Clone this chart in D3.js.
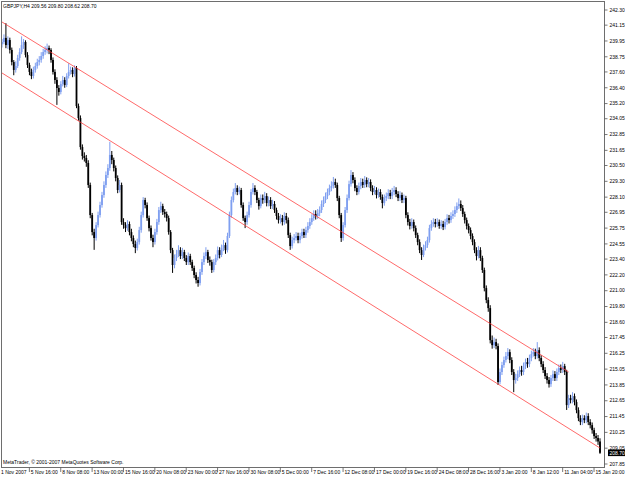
<!DOCTYPE html>
<html>
<head>
<meta charset="UTF-8">
<title>GBPJPY,H4</title>
<script src="https://cdn.jsdelivr.net/npm/d3@7"></script>
<style>
	body { margin: 0; background: #fff; }
	text { font-family: "Liberation Sans", Arial, sans-serif; font-size: 5px; fill: #000; }
</style>
</head>
<body>
<div id="chart"></div>
<script>
// H4 bars, 1 Nov 2007 .. 15 Jan 2008 (open of each bar = previous close)
var firstOpen = 239.70;
var closes = [
	239.87, 240.18, 239.64, 240.02, 239.27, 238.35, 237.75, 238.05, 238.66, 239.11,
	239.64, 239.87, 238.89, 238.13, 237.60, 237.29, 237.75, 238.05, 238.35, 238.51,
	238.81, 239.11, 239.27, 239.42, 239.27, 238.51, 237.60, 236.99, 236.38, 236.08,
	236.68, 236.99, 236.61, 237.29, 237.60, 237.75, 237.44, 237.90, 235.01, 234.10,
	231.90, 231.22, 231.07, 230.69, 229.02, 226.74, 225.45, 225.00, 225.98, 226.74,
	227.50, 228.26, 229.02, 229.78, 230.31, 231.30, 230.92, 230.31, 229.55, 228.64,
	229.02, 226.21, 225.98, 225.75, 226.06, 225.45, 225.00, 224.54, 224.24, 224.69,
	225.60, 226.74, 227.88, 227.50, 226.51, 225.75, 225.00, 224.69, 225.45, 226.21,
	227.12, 227.42, 226.97, 226.82, 226.51, 225.45, 224.08, 222.95, 223.48, 223.78,
	224.08, 223.63, 223.93, 223.48, 223.17, 223.63, 223.17, 222.72, 222.19, 221.81,
	221.58, 222.42, 223.17, 223.63, 223.93, 223.33, 223.17, 222.57, 223.17, 223.48,
	224.08, 223.71, 224.24, 224.46, 224.08, 225.15, 226.74, 227.88, 228.49, 228.79,
	228.49, 228.64, 227.50, 226.51, 226.21, 226.74, 227.50, 228.49, 228.79, 228.49,
	227.88, 227.42, 228.03, 227.88, 228.18, 227.65, 227.88, 227.42, 227.58, 227.12,
	226.67, 226.36, 226.51, 226.21, 226.67, 226.36, 225.22, 224.39, 224.84, 225.00,
	225.15, 224.84, 225.15, 225.45, 225.22, 225.60, 225.91, 226.21, 226.51, 226.82,
	226.67, 226.89, 227.12, 227.58, 227.88, 228.18, 228.49, 228.79, 228.94, 229.25,
	229.02, 228.03, 226.74, 225.00, 225.98, 227.12, 228.03, 229.09, 229.78, 229.40,
	228.79, 228.49, 228.94, 229.25, 229.02, 229.40, 229.09, 229.25, 228.79, 228.49,
	228.64, 228.26, 228.49, 228.11, 227.65, 228.03, 228.18, 228.41, 228.18, 228.49,
	228.64, 228.34, 228.03, 228.26, 227.88, 228.03, 226.74, 226.21, 225.91, 226.21,
	225.75, 225.22, 224.69, 224.08, 223.71, 224.24, 224.46, 224.84, 225.75, 226.06,
	226.21, 226.06, 226.21, 225.91, 226.06, 225.83, 226.21, 226.51, 226.36, 226.67,
	226.82, 227.12, 227.42, 227.58, 227.27, 226.82, 226.36, 225.91, 225.60, 225.15,
	224.69, 224.08, 223.63, 224.08, 223.48, 222.57, 221.20, 220.29, 219.68, 217.25,
	216.87, 217.10, 216.80, 214.07, 214.83, 215.36, 215.74, 216.04, 216.34, 215.74,
	214.83, 214.22, 214.37, 214.67, 214.98, 214.83, 215.28, 215.58, 215.43, 215.89,
	216.19, 216.34, 216.04, 216.49, 215.89, 215.43, 214.98, 214.52, 214.22, 213.91,
	214.37, 214.67, 214.37, 214.83, 215.13, 214.98, 215.28, 214.83, 212.32, 212.85,
	212.70, 213.00, 212.55, 211.94, 211.33, 211.03, 211.33, 211.18, 211.49, 211.03,
	210.80, 210.42, 209.97, 209.82, 209.56, 208.70
];
var highs = [
	240.10, 240.45, 241.30, 240.30, 240.20, 239.45, 238.50, 238.40, 238.90, 239.40,
	240.30, 240.10, 240.00, 239.10, 238.30, 237.85, 238.00, 238.30, 238.60, 238.80,
	239.10, 239.35, 239.55, 239.75, 239.60, 239.40, 238.70, 237.80, 237.20, 236.60,
	236.90, 237.30, 237.20, 237.50, 238.25, 238.00, 237.95, 238.10, 238.05, 235.20,
	234.30, 232.10, 231.50, 231.30, 230.90, 229.20, 226.90, 225.70, 226.20, 227.00,
	227.75, 228.50, 229.30, 230.05, 230.60, 232.30, 231.60, 231.10, 230.50, 229.75,
	229.40, 229.20, 226.50, 226.20, 226.35, 226.25, 225.70, 225.20, 224.80, 224.95,
	225.85, 227.00, 228.10, 228.05, 227.70, 226.70, 225.95, 225.25, 225.70, 226.45,
	227.35, 227.75, 227.60, 227.20, 227.00, 226.70, 225.60, 224.25, 223.75, 224.10,
	224.45, 224.30, 224.25, 224.10, 223.70, 223.90, 223.80, 223.35, 222.90, 222.40,
	222.05, 222.65, 223.40, 223.90, 224.30, 224.10, 223.60, 223.35, 223.40, 223.75,
	224.35, 224.30, 224.50, 224.85, 224.65, 225.40, 227.00, 228.15, 228.75, 229.17,
	229.00, 228.90, 228.80, 227.70, 226.70, 227.00, 227.75, 228.70, 229.17, 229.00,
	228.65, 228.05, 228.30, 228.30, 228.50, 228.40, 228.15, 228.10, 227.90, 227.80,
	227.30, 226.90, 226.80, 226.75, 226.95, 226.90, 226.55, 225.40, 225.10, 225.30,
	225.45, 225.40, 225.40, 225.70, 225.70, 225.85, 226.20, 226.50, 226.80, 227.10,
	227.10, 227.20, 227.40, 227.85, 228.15, 228.45, 228.75, 229.05, 229.30, 229.63,
	229.50, 229.20, 228.20, 226.90, 226.20, 227.35, 228.30, 229.35, 230.15, 230.00,
	229.60, 229.00, 229.20, 229.55, 229.50, 229.70, 229.60, 229.55, 229.45, 229.00,
	228.95, 228.85, 228.75, 228.70, 228.30, 228.30, 228.45, 228.70, 228.65, 228.80,
	228.95, 228.85, 228.55, 228.55, 228.45, 228.30, 228.20, 226.95, 226.45, 226.50,
	226.40, 225.95, 225.40, 224.90, 224.30, 224.50, 224.75, 225.10, 226.00, 226.35,
	226.50, 226.45, 226.50, 226.40, 226.35, 226.30, 226.45, 226.80, 226.75, 226.95,
	227.10, 227.40, 227.70, 228.00, 227.85, 227.50, 227.00, 226.55, 226.10, 225.80,
	225.35, 224.90, 224.30, 224.40, 224.30, 223.65, 222.75, 221.40, 220.50, 219.90,
	217.60, 217.45, 217.35, 217.00, 215.10, 215.60, 216.00, 216.35, 216.65, 216.55,
	215.95, 215.05, 214.70, 214.95, 215.25, 215.30, 215.55, 215.85, 215.90, 216.15,
	216.45, 216.65, 216.60, 217.10, 216.70, 216.10, 215.65, 215.20, 214.75, 214.45,
	214.60, 214.95, 214.90, 215.10, 215.40, 215.40, 215.60, 215.45, 215.00, 213.10,
	213.10, 213.30, 213.20, 212.75, 212.15, 211.55, 211.60, 211.55, 211.75, 211.70,
	211.25, 211.00, 210.60, 210.20, 210.05, 209.80
];
var lows = [
	239.45, 239.70, 239.40, 239.35, 239.00, 238.10, 237.35, 237.55, 237.90, 238.45,
	238.95, 239.35, 238.70, 237.90, 237.35, 237.05, 237.10, 237.55, 237.85, 238.10,
	238.30, 238.60, 238.90, 239.00, 238.95, 238.30, 237.40, 236.70, 235.10, 235.80,
	235.90, 236.50, 236.40, 236.45, 237.10, 237.40, 237.20, 237.25, 234.85, 233.90,
	231.70, 230.95, 230.80, 230.40, 228.80, 226.50, 225.20, 224.10, 224.80, 225.80,
	226.55, 227.30, 228.05, 228.80, 229.55, 230.10, 230.60, 230.05, 229.30, 228.40,
	228.45, 226.00, 225.70, 225.45, 225.55, 225.20, 224.75, 224.30, 223.85, 224.05,
	224.50, 225.40, 226.55, 227.25, 226.30, 225.50, 224.80, 224.30, 224.50, 225.25,
	226.00, 226.90, 226.75, 226.55, 226.25, 225.25, 223.85, 222.35, 222.70, 223.25,
	223.55, 223.40, 223.40, 223.25, 222.95, 222.95, 222.95, 222.50, 221.95, 221.55,
	221.30, 221.40, 222.20, 222.95, 223.40, 223.10, 222.90, 222.35, 222.40, 222.95,
	223.30, 223.45, 223.55, 224.00, 223.80, 223.90, 225.00, 226.55, 227.70, 228.30,
	228.25, 228.30, 227.30, 226.30, 225.75, 226.00, 226.55, 227.30, 228.30, 228.25,
	227.65, 227.15, 227.25, 227.60, 227.65, 227.40, 227.40, 227.20, 227.20, 226.90,
	226.40, 226.10, 226.10, 225.95, 226.00, 226.10, 225.00, 224.10, 224.20, 224.60,
	224.80, 224.60, 224.60, 224.95, 225.00, 225.00, 225.40, 225.70, 226.00, 226.30,
	226.40, 226.45, 226.65, 226.90, 227.35, 227.65, 227.95, 228.25, 228.55, 228.75,
	228.80, 227.80, 226.50, 224.70, 224.80, 225.80, 226.90, 227.85, 228.90, 229.15,
	228.55, 228.25, 228.30, 228.70, 228.80, 228.80, 228.85, 228.85, 228.55, 228.25,
	228.30, 228.00, 228.05, 227.90, 227.25, 227.45, 227.80, 227.95, 227.95, 227.95,
	228.25, 228.10, 227.80, 227.80, 227.65, 227.65, 226.50, 225.95, 225.65, 225.70,
	225.50, 225.00, 224.45, 223.85, 223.33, 223.55, 224.05, 224.25, 224.65, 225.55,
	225.85, 225.80, 225.85, 225.70, 225.70, 225.60, 225.65, 226.00, 226.10, 226.15,
	226.45, 226.60, 226.90, 227.20, 227.05, 226.60, 226.10, 225.65, 225.35, 224.90,
	224.45, 223.85, 223.30, 223.45, 223.25, 222.35, 220.95, 220.05, 219.40, 217.00,
	216.60, 216.65, 216.55, 213.85, 213.90, 214.60, 215.15, 215.55, 215.80, 215.50,
	214.60, 213.30, 213.95, 214.15, 214.45, 214.55, 214.60, 215.05, 215.15, 215.20,
	215.65, 216.00, 215.80, 215.85, 215.65, 215.20, 214.75, 214.30, 213.95, 213.65,
	213.70, 214.15, 214.15, 214.15, 214.60, 214.75, 214.75, 214.60, 211.95, 212.10,
	212.45, 212.45, 212.30, 211.70, 211.10, 210.80, 210.80, 210.95, 210.95, 210.80,
	210.55, 210.15, 209.75, 209.55, 209.30, 208.62
];

var priceTicks = ["242.30", "241.15", "239.95", "238.75", "237.60", "236.40", "235.20", "234.05",
	"232.85", "231.65", "230.50", "229.30", "228.10", "226.95", "225.75", "224.55", "223.40",
	"222.20", "221.00", "219.80", "218.60", "217.45", "216.25", "215.05", "213.85", "212.65",
	"211.45", "210.25", "209.05", "207.85"];
// one time label every 16 bars
var timeLabels = ["1 Nov 2007", "5 Nov 16:00", "8 Nov 08:00", "13 Nov 00:00", "15 Nov 16:00",
	"20 Nov 08:00", "23 Nov 00:00", "27 Nov 16:00", "30 Nov 08:00", "5 Dec 00:00", "7 Dec 16:00",
	"12 Dec 08:00", "17 Dec 00:00", "19 Dec 16:00", "24 Dec 08:00", "28 Dec 16:00", "3 Jan 20:00",
	"8 Jan 12:00", "11 Jan 04:00", "15 Jan 20:00"];
var labelEvery = 16;

// channel trendlines: [bar index, price]
var upperLine = [[0, 241.39], [289, 214.83]];
var lowerLine = [[0, 237.52], [305, 209.06]];

var headerText = "GBPJPY,H4  209.56 209.80 208.62 208.70";
var footerText = "MetaTrader, \u00a9 2001-2007 MetaQuotes Software Corp.";
var lastPrice = 208.70;

var width = 625, height = 477;
var plotLeft = 1, plotRight = 604, plotTop = 1, plotBottom = 467;
var upColor = "#7f9ff0", downColor = "#000";

var svg = d3.select("#chart").append("svg")
	.attr("width", width)
	.attr("height", height);

svg.append("rect")
	.attr("width", width)
	.attr("height", height)
	.attr("fill", "#fff");

var x = d3.scaleLinear().domain([0, closes.length - 1]).range([2, 600]);
var y = d3.scaleLinear().domain([207.85, 242.30]).range([464, 10]);

var bars = closes.map(function(c, i) {
	return { i: i, o: i == 0 ? firstOpen : closes[i - 1], h: highs[i], l: lows[i], c: c };
});

var plot = svg.append("g");

// wicks
plot.selectAll("line.wick")
	.data(bars)
	.enter().append("line")
	.attr("class", "wick")
	.attr("x1", function(d) { return x(d.i); })
	.attr("x2", function(d) { return x(d.i); })
	.attr("y1", function(d) { return y(d.h); })
	.attr("y2", function(d) { return y(d.l); })
	.attr("stroke", function(d) { return d.c >= d.o ? upColor : downColor; })
	.attr("stroke-width", 1);

// bodies
plot.selectAll("rect.body")
	.data(bars)
	.enter().append("rect")
	.attr("class", "body")
	.attr("x", function(d) { return x(d.i) - 0.9; })
	.attr("width", 1.8)
	.attr("y", function(d) { return y(Math.max(d.o, d.c)); })
	.attr("height", function(d) { return Math.max(0.6, Math.abs(y(d.o) - y(d.c))); })
	.attr("fill", function(d) { return d.c >= d.o ? upColor : downColor; });

// channel
[upperLine, lowerLine].forEach(function(ln) {
	svg.append("line")
		.attr("x1", x(ln[0][0]))
		.attr("y1", y(ln[0][1]))
		.attr("x2", x(ln[1][0]))
		.attr("y2", y(ln[1][1]))
		.attr("stroke", "#ff3b3b")
		.attr("stroke-width", 0.9)
		.attr("stroke-opacity", 0.85);
});

// frame
svg.append("rect")
	.attr("x", plotLeft + 0.5)
	.attr("y", plotTop + 0.5)
	.attr("width", plotRight - plotLeft)
	.attr("height", plotBottom - plotTop)
	.attr("fill", "none")
	.attr("stroke", "#6e6e6e")
	.attr("stroke-width", 1);

// price scale
var pAxis = svg.append("g");
priceTicks.forEach(function(t) {
	var py = y(+t);
	pAxis.append("line")
		.attr("x1", plotRight + 0.5).attr("x2", plotRight + 3.5)
		.attr("y1", py).attr("y2", py)
		.attr("stroke", "#555").attr("stroke-width", 0.8);
	pAxis.append("text")
		.attr("x", plotRight + 5.5)
		.attr("y", py)
		.attr("dy", "0.35em")
		.text(t);
});

// last price marker
var ly = y(lastPrice);
pAxis.append("rect")
	.attr("x", plotRight + 4)
	.attr("y", ly - 3.3)
	.attr("width", 17)
	.attr("height", 6.6)
	.attr("fill", "#000");
pAxis.append("text")
	.attr("x", plotRight + 5.5)
	.attr("y", ly)
	.attr("dy", "0.35em")
	.style("fill", "#fff")
	.text(lastPrice.toFixed(2));

// time scale
var tAxis = svg.append("g");
timeLabels.forEach(function(t, k) {
	var tx = x(k * labelEvery) - 4;
	tAxis.append("line")
		.attr("x1", tx).attr("x2", tx)
		.attr("y1", plotBottom + 0.5).attr("y2", plotBottom + 5)
		.attr("stroke", "#555").attr("stroke-width", 0.8);
	tAxis.append("text")
		.attr("x", Math.max(1, tx + 1.5))
		.attr("y", plotBottom + 7)
		.text(t);
});

svg.append("text").attr("x", 3).attr("y", 8).text(headerText);
svg.append("text").attr("x", 3).attr("y", 464).text(footerText);
</script>
</body>
</html>
